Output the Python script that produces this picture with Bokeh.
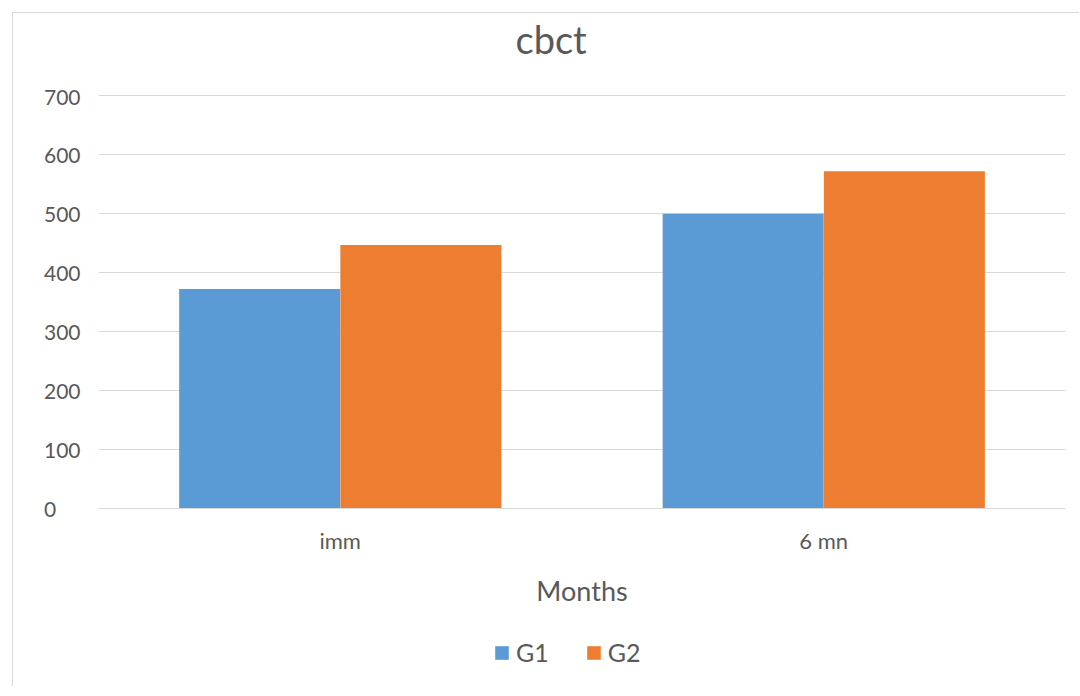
from bokeh.plotting import figure
from bokeh.layouts import column
from bokeh.models import ColumnDataSource, Legend, LegendItem, FixedTicker, Range1d, FactorRange, Title
from bokeh.transform import dodge
from bokeh.embed import file_html
from bokeh.resources import INLINE

categories = ["imm", "6 mn"]
series = ["G1", "G2"]
g1 = [372, 500]
g2 = [447, 572]
colors = ["#5B9BD5", "#ED7D31"]
yticks = [0, 100, 200, 300, 400, 500, 600, 700]

FONT = "Lato"
GREY = "#595959"
GRID = "#d9d9d9"
W = 1066


def strip(height):
    f = figure(width=W, height=height, x_range=Range1d(0, 1), y_range=Range1d(0, 1),
               output_backend="svg", toolbar_location=None,
               min_border_left=0, min_border_right=0, min_border_top=0, min_border_bottom=0,
               x_axis_type=None, y_axis_type=None)
    f.outline_line_color = None
    f.grid.grid_line_color = None
    return f


# title strip
p0 = strip(70)
t = Title(text="cbct", align="left", offset=417, text_font=FONT, text_font_size="38px",
          text_color=GREY, text_font_style="normal", standoff=0)
p0.add_layout(t, "above")

# main chart
src = ColumnDataSource(dict(cat=categories, G1=g1, G2=g2))
p = figure(width=W, height=535, x_range=FactorRange(*categories, range_padding=0),
           y_range=Range1d(0, 702), output_backend="svg", toolbar_location=None,
           min_border_left=85, min_border_right=14, min_border_top=11, min_border_bottom=110)
p.outline_line_color = None

r1 = p.vbar(x=dodge("cat", -0.1667, range=p.x_range), top="G1", width=0.333, source=src,
            fill_color=colors[0], line_color=None)
r2 = p.vbar(x=dodge("cat", 0.1667, range=p.x_range), top="G2", width=0.333, source=src,
            fill_color=colors[1], line_color=None)

p.yaxis.ticker = FixedTicker(ticks=yticks)
p.yaxis.major_label_overrides = {v: str(v) + "\u2007" * (3 - len(str(v))) for v in yticks}
p.yaxis.axis_line_color = None
p.yaxis.major_tick_line_color = None
p.yaxis.minor_tick_line_color = None
p.yaxis.major_label_text_font = FONT
p.yaxis.major_label_text_font_size = "21px"
p.yaxis.major_label_text_color = GREY
p.yaxis.major_label_standoff = 12

p.xaxis.axis_line_color = GRID
p.xaxis.major_tick_line_color = None
p.xaxis.minor_tick_line_color = None
p.xaxis.major_label_text_font = FONT
p.xaxis.major_label_text_font_size = "22px"
p.xaxis.major_label_text_color = GREY
p.xaxis.major_label_standoff = 12
p.xaxis.axis_label = "Months"
p.xaxis.axis_label_text_font = FONT
p.xaxis.axis_label_text_font_size = "27px"
p.xaxis.axis_label_text_font_style = "normal"
p.xaxis.axis_label_text_color = GREY
p.xaxis.axis_label_standoff = 17

p.xgrid.grid_line_color = None
p.ygrid.grid_line_color = GRID
p.ygrid.ticker = FixedTicker(ticks=yticks)

# legend strip
p2 = strip(68)
nan = float("nan")
e1 = p2.vbar(x=[nan], top=[nan], width=0.1, fill_color=colors[0], line_color=None)
e2 = p2.vbar(x=[nan], top=[nan], width=0.1, fill_color=colors[1], line_color=None)
legend = Legend(items=[LegendItem(label=series[0], renderers=[e1]),
                       LegendItem(label=series[1], renderers=[e2])],
                orientation="horizontal", location=(395, 19),
                label_text_font=FONT, label_text_font_size="25px", label_text_color=GREY,
                glyph_width=17, glyph_height=17, spacing=36, label_standoff=6,
                border_line_color=None, background_fill_alpha=0, margin=0, padding=0)
p2.add_layout(legend, "center")

layout = column(p0, p, p2, spacing=0, margin=(12, 0, 0, 12),
                styles={"border-left": "1px solid #d9d9d9", "border-top": "1px solid #d9d9d9"})

open("out.html", "w").write(file_html(layout, INLINE))
